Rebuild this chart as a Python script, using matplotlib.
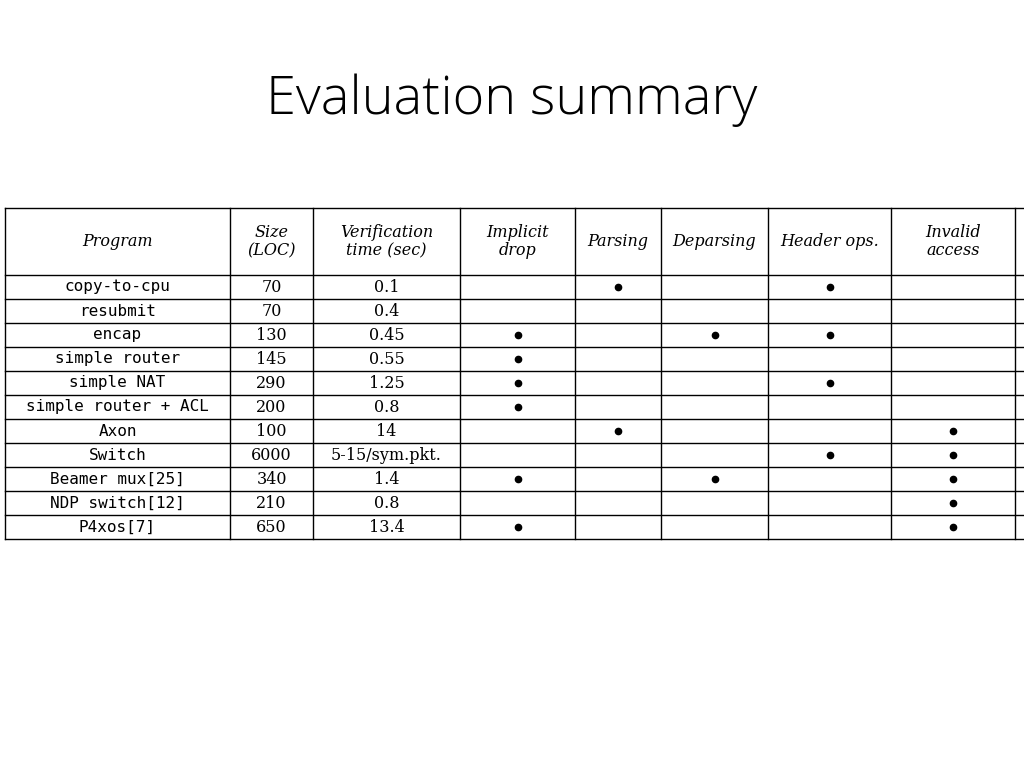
import matplotlib.pyplot as plt

programs = ['copy-to-cpu', 'resubmit', 'encap', 'simple router', 'simple NAT',
            'simple router + ACL', 'Axon', 'Switch', 'Beamer mux[25]',
            'NDP switch[12]', 'P4xos[7]']
sizes = ['70', '70', '130', '145', '290', '200', '100', '6000', '340', '210', '650']
times = ['0.1', '0.4', '0.45', '0.55', '1.25', '0.8', '14', '5-15/sym.pkt.',
         '1.4', '0.8', '13.4']
headers = ['Program', 'Size\n(LOC)', 'Verification\ntime (sec)', 'Implicit\ndrop',
           'Parsing', 'Deparsing', 'Header ops.', 'Invalid\naccess']
# feature columns: Implicit drop, Parsing, Deparsing, Header ops., Invalid access
marks = [
    [0, 1, 0, 1, 0],
    [0, 0, 0, 0, 0],
    [1, 0, 1, 1, 0],
    [1, 0, 0, 0, 0],
    [1, 0, 0, 1, 0],
    [1, 0, 0, 0, 0],
    [0, 1, 0, 0, 1],
    [0, 0, 0, 1, 1],
    [1, 0, 1, 0, 1],
    [0, 0, 0, 0, 1],
    [1, 0, 0, 0, 1],
]

fig = plt.figure(figsize=(10.24, 7.68), dpi=100)
ax = fig.add_axes([0, 0, 1, 1])
ax.set_xlim(0, 1024)
ax.set_ylim(768, 0)
ax.axis('off')

ax.text(512, 100, 'Evaluation summary', ha='center', va='center',
        fontsize=39, family='Open Sans', fontweight='light')

col_x = [5, 230, 313, 460, 575, 661, 768, 891, 1015]
top, head_bot = 208, 275
row_h = 24
bottom = head_bot + row_h * len(programs)

# grid lines
for x in col_x:
    ax.plot([x, x], [top, bottom], color='black', lw=1)
ax.plot([col_x[0], 1024], [top, top], color='black', lw=1)
ax.plot([col_x[0], 1024], [head_bot, head_bot], color='black', lw=1)
for i in range(1, len(programs) + 1):
    y = head_bot + i * row_h
    ax.plot([col_x[0], 1024], [y, y], color='black', lw=1)

centers = [(col_x[i] + col_x[i + 1]) / 2 for i in range(len(col_x) - 1)]
for c, h in zip(centers, headers):
    ax.text(c, (top + head_bot) / 2, h, ha='center', va='center',
            fontsize=11.5, family='DejaVu Serif', style='italic', linespacing=1.1)

for r, prog in enumerate(programs):
    yc = head_bot + r * row_h + row_h / 2
    ax.text(centers[0], yc, prog, ha='center', va='center', fontsize=11.5,
            family='DejaVu Sans Mono')
    ax.text(centers[1], yc, sizes[r], ha='center', va='center', fontsize=11.5,
            family='DejaVu Serif')
    ax.text(centers[2], yc, times[r], ha='center', va='center', fontsize=11.5,
            family='DejaVu Serif')
    for k, m in enumerate(marks[r]):
        if m:
            ax.plot(centers[3 + k], yc, 'o', color='black', ms=4.5)

fig.savefig('out.png', dpi=100)
